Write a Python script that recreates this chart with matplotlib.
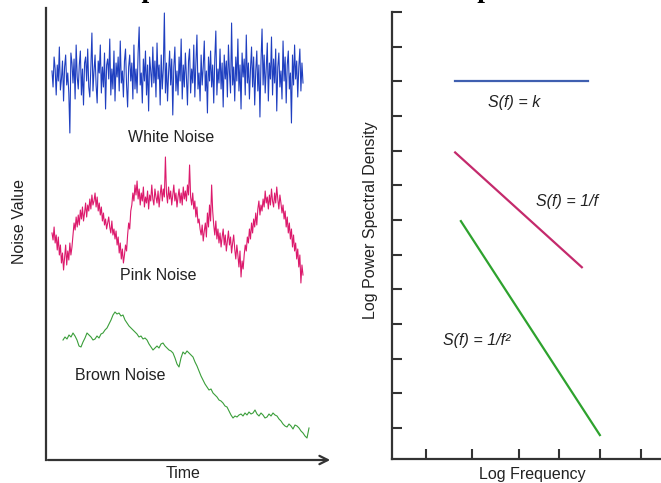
import numpy as np
import matplotlib.pyplot as plt

plt.rcParams['font.family'] = ['Liberation Sans', 'DejaVu Sans']

# time-domain traces (offsets, up is positive)
white_noise = [
    4, -12, 18, 6, -20, 10, -6, 28, -15, -4, 14, -26, 8, 20, -10, 2, -18, -58, 22, 12,
    -8, 16, -24, 30, -2, -14, 10, 24, -20, 6, -30, 12, 18, -6, 26, -12, -22, 8, 42, -16,
    4, 20, -10, -28, 14, 2, 30, -18, 8, -12, 22, -34, 10, 16, -4, 36, -20, 6, -14, 24,
    -26, 12, -2, 18, -16, 34, -8, 4, -22, 14, 26, -10, -32, 8, 20, -6, 12, -24, 30, -14,
    6, -18, 22, 48, -10, 2, -28, 16, -6, 24, -20, 10, -36, 18, 4, -12, 28, -8, 14, -22,
    32, -4, 10, -30, 20, -14, 6, 62, -18, 12, -26, 2, 24, -10, 16, -40, 8, 28, -16, 4,
    -20, 18, -6, 36, -24, 10, -12, 22, -2, -30, 14, 26, -18, 6, -8, 30, -22, 12, 40, -14,
    2, -26, 20, -10, 8, 34, -16, 4, -38, 18, -6, 24, -12, 10, -28, 16, 44, -20, 6, -8,
    26, -14, 12, -32, 20, -4, 14, -22, 30, 2, -18, 52, -10, 8, -26, 18, -6, 36, -16, 10,
    -34, 22, -2, 16, -20, 40, -8, 12, -24, 6, 28, -12, 18, -30, 4, 24, -16, 10, -42, 14,
    46, -10, 20, -18, 6, 32, -26, 12, -4, 38, -20, 16, -8, 26, -36, 8, 22, -12, 4, -24,
    34, -6, 18, -28, 10, 24, -14, 2, -48, 20, -10, 30, -4, 14, -22, 8, 26, -16, 12, -8,
]
pink_noise = [
    -18, -25, -12, -28, -20, -35, -22, -40, -30, -48, -38, -55, -42, -30, -50, -36, -45, -28, -40, -32,
    -20, -8, -15, -2, -12, 0, -10, 5, -4, 8, -6, 2, 12, -2, 10, 4, 16, 6, 20, 10,
    14, 22, 8, 18, 4, 12, 0, 8, -6, 2, -10, -4, -14, -8, -2, -12, -18, -6, -20, -14,
    -24, -16, -30, -22, -38, -28, -44, -34, -48, -40, -30, -36, -20, -8, -14, 4, 10, 22, 14, 30,
    20, 34, 16, 26, 10, 22, 14, 28, 8, 18, 12, 24, 6, 20, 14, 30, 16, 10, 26, 18,
    12, 24, 8, 20, 30, 14, 26, 18, 58, 22, 12, 28, 16, 24, 10, 20, 30, 14, 22, 8,
    18, 26, 12, 22, 10, 28, 16, 24, 14, 30, 20, 50, 18, 10, 22, 6, 14, -2, 8, -8,
    -4, -14, -20, -10, -26, -16, -8, -22, 2, -12, 10, -6, 30, 4, -10, -20, -6, -24, -14, -28,
    -18, -32, -22, -14, -30, -20, -36, -26, -16, -30, -22, -38, -28, -20, -34, -44, -30, -40, -52, -36,
    -62, -46, -54, -40, -30, -36, -22, -28, -14, -24, -8, -18, -4, -12, 2, -10, 6, 14, 0, 10,
    4, 16, 8, 24, 12, 18, 6, 20, 10, 26, 14, 8, 22, 12, 28, 16, 6, 20, 12, 2,
    10, -4, 4, -12, -2, -18, -8, -24, -14, -32, -20, -36, -28, -44, -34, -52, -40, -68, -50, -60,
]
brown_noise = [
    0, 3, 1, 5, 3, 7, 4, 0, -6, -7, -2, 2, 7, 5, 3, 0, 1, 4, 2, 6,
    7, 10, 12, 16, 20, 25, 28, 26, 27, 24, 25, 20, 17, 14, 12, 10, 8, 6, 3, 4,
    1, 2, 0, -4, -7, -10, -8, -6, -8, -4, -3, -6, -8, -10, -11, -13, -18, -24, -27, -18,
    -12, -14, -11, -13, -15, -17, -22, -26, -31, -36, -40, -44, -47, -50, -49, -53, -55, -57, -60, -61,
    -63, -66, -67, -71, -75, -78, -76, -77, -75, -74, -76, -73, -75, -72, -74, -73, -70, -74, -76, -73,
    -75, -78, -77, -74, -76, -73, -75, -76, -79, -81, -84, -86, -87, -84, -86, -89, -85, -86, -88, -91,
    -93, -96, -98, -88,
]

# spectra (log frequency, log power)
white_psd_x = [1.54, 4.78]
white_psd_y = [11.0, 11.0]
pink_psd_x = [1.54, 4.63]
pink_psd_y = [8.95, 5.64]
brown_psd_x = [1.68, 5.07]
brown_psd_y = [6.97, 0.8]
freq_ticks = [0.83, 1.95, 3.1, 4.07, 5.07, 6.07]
power_ticks = [1, 2, 3, 4, 5, 6, 7, 8, 9, 10, 11, 12, 13]

W, H = 661, 483
fig = plt.figure(figsize=(W / 100, H / 100), dpi=100)
axis_col = '#333333'

# ---- left panel: noise in time
ax1 = fig.add_axes([46 / W, (H - 460) / H, (333 - 46) / W, (460 - 8) / H])
ax1.set_xlim(0, 287)
ax1.set_ylim(0, 452)
ax1.plot(np.linspace(6, 257, len(white_noise)), 385 + np.array(white_noise),
         color='#1f3fc0', lw=0.8)
ax1.plot(np.linspace(6, 257, len(pink_noise)), 245 + np.array(pink_noise),
         color='#dc1a6c', lw=0.8)
ax1.plot(np.linspace(17, 263, len(brown_noise)), 120 + np.array(brown_noise),
         color='#3a9e3a', lw=0.8)
ax1.text(125, 323, 'White Noise', ha='center', va='center', fontsize=11.5, color='#222222')
ax1.text(112, 184, 'Pink Noise', ha='center', va='center', fontsize=11.5, color='#222222')
ax1.text(74, 84, 'Brown Noise', ha='center', va='center', fontsize=11.5, color='#222222')
for s in ['top', 'right', 'bottom']:
    ax1.spines[s].set_visible(False)
ax1.spines['left'].set_color(axis_col)
ax1.spines['left'].set_linewidth(1.6)
ax1.set_xticks([])
ax1.set_yticks([])
ax1.annotate('', xy=(1.0, 0), xytext=(-0.003, 0), xycoords='axes fraction',
             arrowprops=dict(arrowstyle='->,head_length=0.6,head_width=0.3',
                             color=axis_col, lw=1.6))
fig.text(20 / W, 1 - 222 / H, 'Noise Value', rotation=90, ha='center', va='center',
         fontsize=11.5, color='#222222')
fig.text(183 / W, 1 - 473 / H, 'Time', ha='center', va='center', fontsize=11.5,
         color='#222222')

# ---- right panel: power spectra
ax2 = fig.add_axes([392 / W, (H - 459) / H, (700 - 392) / W, (459 - 12) / H])
ax2.set_xlim(0, 308 / 41)
ax2.set_ylim(0.11, 13)
ax2.plot(white_psd_x, white_psd_y, color='#3f5fb0', lw=1.6)
ax2.plot(pink_psd_x, pink_psd_y, color='#c42a6c', lw=1.6)
ax2.plot(brown_psd_x, brown_psd_y, color='#2ea22e', lw=1.6)
ax2.text(2.98, 10.39, 'S(f) = k', style='italic', ha='center', va='center',
         fontsize=11.5, color='#222222')
ax2.text(4.27, 7.54, 'S(f) = 1/f', style='italic', ha='center', va='center',
         fontsize=11.5, color='#222222')
ax2.text(2.07, 3.54, 'S(f) = 1/f\u00b2', style='italic', ha='center', va='center',
         fontsize=11.5, color='#222222')
ax2.spines['top'].set_visible(False)
ax2.spines['right'].set_visible(False)
for s in ['left', 'bottom']:
    ax2.spines[s].set_color(axis_col)
    ax2.spines[s].set_linewidth(1.6)
ax2.set_xticks(freq_ticks)
ax2.set_yticks(power_ticks)
ax2.tick_params(direction='in', length=7.5, width=1.5, color=axis_col,
                labelbottom=False, labelleft=False)
fig.text(370 / W, 1 - 220 / H, 'Log Power Spectral Density', rotation=90,
         ha='center', va='center', fontsize=11.5, color='#222222')
fig.text(532 / W, 1 - 475 / H, 'Log Frequency', ha='center', va='center',
         fontsize=11.5, color='#222222')

# titles sit above the frame, only the descenders show
fig.text(90 / W, 1 + 3 / H, 'Temporal Noise', ha='left', va='baseline',
         fontfamily='Liberation Serif', fontweight='bold', fontsize=20)
fig.text(380 / W, 1 + 3 / H, 'Power Spectrum', ha='left', va='baseline',
         fontfamily='Liberation Serif', fontweight='bold', fontsize=20)

fig.savefig('out.png', dpi=100)
